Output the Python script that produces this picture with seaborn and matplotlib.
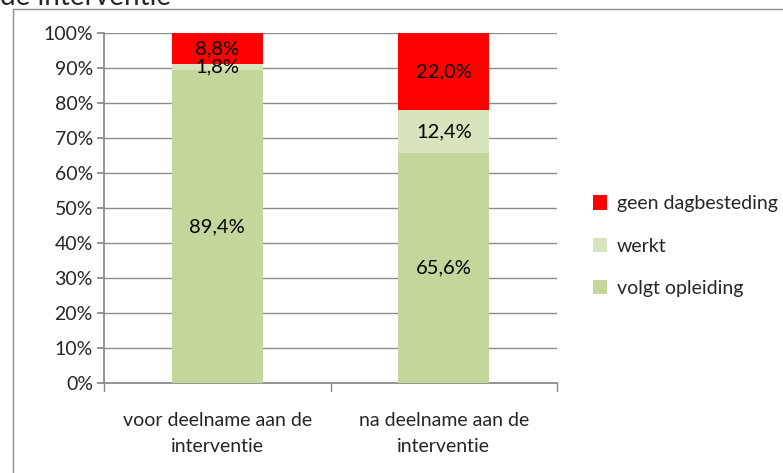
import matplotlib
matplotlib.use("Agg")
import matplotlib.pyplot as plt
from matplotlib.patches import Rectangle, Patch
import seaborn as sns
import pandas as pd
import numpy as np

categories = ["voor deelname aan de\ninterventie", "na deelname aan de\ninterventie"]
series = ["volgt opleiding", "werkt", "geen dagbesteding"]
volgt = [89.4, 65.6]
werkt = [1.8, 12.4]
geen = [8.8, 22.0]
labels_volgt = ["89,4%", "65,6%"]
labels_werkt = ["1,8%", "12,4%"]
labels_geen = ["8,8%", "22,0%"]
colors = {"volgt opleiding": "#C3D69B", "werkt": "#D7E4BD", "geen dagbesteding": "#FF0000"}

sns.set_theme(style="white")
plt.rcParams['font.family'] = ['Lato', 'DejaVu Sans']

fig = plt.figure(figsize=(7.83, 4.73), dpi=100)
ax = fig.add_axes([104/783, 1 - 383/473, (557-104)/783, (383-33)/473])

vals = [volgt, werkt, geen]
cum = np.cumsum(np.array(vals), axis=0)
# draw from top cumulative down so lower segments overlay
for i in reversed(range(len(series))):
    df = pd.DataFrame({"cat": categories, "val": cum[i]})
    sns.barplot(data=df, x="cat", y="val", color=colors[series[i]], width=0.4,
                saturation=1, ax=ax, linewidth=0, zorder=3)

labs = [labels_volgt, labels_werkt, labels_geen]
for i in range(len(series)):
    for j in range(len(categories)):
        bottom = cum[i][j] - vals[i][j]
        ax.text(j, bottom + vals[i][j] / 2, labs[i][j], ha="center", va="center",
                fontsize=14.5, color="black", zorder=5)

ax.set_ylim(0, 100)
ax.set_xlim(-0.5, 1.5)
ax.set_yticks(np.arange(0, 101, 10))
ax.set_yticklabels([f"{v}%" for v in range(0, 101, 10)], fontsize=14)
ax.set_xlabel("")
ax.set_ylabel("")
for t in ax.get_xticklabels():
    t.set_linespacing(1.6)
ax.tick_params(axis="x", labelsize=14, length=0, pad=21)
ax.tick_params(axis="y", length=5, color="#888888", left=True, pad=3)
ax.yaxis.grid(True, color="#8c8c8c", linewidth=1)
ax.set_axisbelow(True)
for s in ["top", "right"]:
    ax.spines[s].set_visible(False)
ax.spines["left"].set_color("#888888")
ax.spines["bottom"].set_color("#888888")
# x tick marks at category boundaries
for xb in [-0.5, 0.5, 1.5]:
    ax.plot([xb, xb], [0, -2.3], color="#888888", lw=1, clip_on=False, zorder=4)

handles = [Patch(facecolor=colors[s], edgecolor="none", label=s) for s in reversed(series)]
fig.legend(handles=handles, loc="center left", bbox_to_anchor=(575/783, 1 - 246/473),
           frameon=False, fontsize=14, handlelength=0.75, handleheight=0.75,
           labelspacing=1.3, handletextpad=0.5)

# chart-area border
fig.patches.append(Rectangle((13/783, -0.01), 1.0, 1 - 9/473 + 0.01, transform=fig.transFigure,
                             fill=False, edgecolor="#8c8c8c", linewidth=1))
fig.text(0.0, 1.0 + 3/473, "de interventie", fontsize=20, ha="left", va="center")

fig.savefig("out.png", dpi=100)
